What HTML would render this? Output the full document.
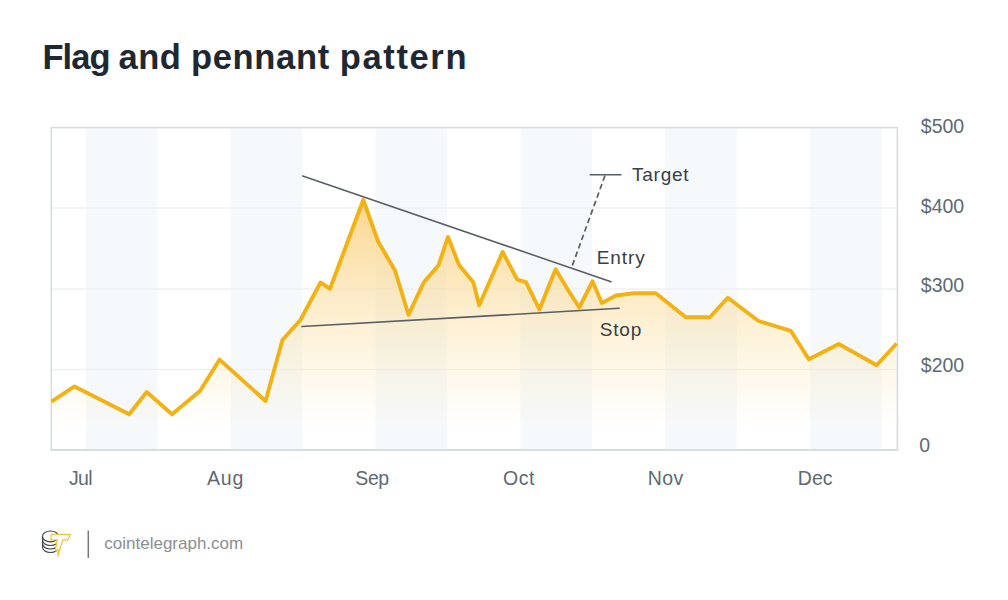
<!DOCTYPE html>
<html>
<head>
<meta charset="utf-8">
<style>
html,body{margin:0;padding:0;background:#fff;width:1008px;height:600px;overflow:hidden;}
svg{display:block;}
text{font-family:"Liberation Sans",sans-serif;}
</style>
</head>
<body>
<svg width="1008" height="600" viewBox="0 0 1008 600">
  <defs>
    <linearGradient id="fillg" gradientUnits="userSpaceOnUse" x1="0" y1="200" x2="0" y2="428">
      <stop offset="0" stop-color="#fad283" stop-opacity="0.9"/>
      <stop offset="1" stop-color="#fbe3a8" stop-opacity="0"/>
    </linearGradient>
  </defs>
  <rect x="0" y="0" width="1008" height="600" fill="#ffffff"/>
  <!-- title -->
  <g font-size="34.5" font-weight="bold" fill="#1e2833">
    <text x="42.4" y="68.5" letter-spacing="-0.9">Flag</text>
    <text x="118.4" y="68.5" letter-spacing="0.6">and</text>
    <text x="190.9" y="68.5" letter-spacing="0.7">pennant</text>
    <text x="339.7" y="68.5" letter-spacing="1.65">pattern</text>
  </g>

  <!-- stripes -->
  <g fill="#f6f9fb">
    <rect x="86" y="128" width="71.6" height="321.5"/>
    <rect x="230.8" y="128" width="71.6" height="321.5"/>
    <rect x="375.6" y="128" width="71.6" height="321.5"/>
    <rect x="520.4" y="128" width="71.6" height="321.5"/>
    <rect x="665.2" y="128" width="71.6" height="321.5"/>
    <rect x="810" y="128" width="71.6" height="321.5"/>
  </g>
  <!-- gridlines -->
  <g stroke="#eef1f3" stroke-width="1.5">
    <line x1="52" y1="208.1" x2="897" y2="208.1"/>
    <line x1="52" y1="288.9" x2="897" y2="288.9"/>
    <line x1="52" y1="369.5" x2="897" y2="369.5"/>
  </g>

  <!-- area fill -->
  <polygon fill="url(#fillg)" points="51.5,449.5 51.5,401.6 74.5,386.4 129.2,414.2 146.7,392 172,414.2 200,391 219.6,359.6 265.6,401 282.4,340 300.4,320 320.5,282.5 330,288.75 363.25,200 378,241.25 395,270.5 408.5,314.8 423.8,282.3 438.5,265.4 448,236.9 459,264.9 473.3,282.3 479.2,305.2 502.6,252 517.3,279.6 526,282.2 539.4,309.5 555.6,269.3 568,290 579.3,307.5 592.5,281.3 601.8,303 616,295.5 634,293.3 655.8,293.3 685.8,317.3 709.8,317.3 727.8,297.8 758.5,321 790.8,330.8 808.8,359.3 838.8,344 876.7,365.3 896.6,343.5 896.6,449.5"/>

  <!-- frame -->
  <rect x="51.3" y="127.6" width="846.1" height="322.4" fill="none" stroke="#d6dce2" stroke-width="1.6"/>
  <line x1="50.5" y1="450" x2="898.2" y2="450" stroke="#d8dde2" stroke-width="2"/>

  <!-- price line -->
  <polyline fill="none" stroke="#f2b213" stroke-width="3.9" stroke-linejoin="round" points="51.5,401.6 74.5,386.4 129.2,414.2 146.7,392 172,414.2 200,391 219.6,359.6 265.6,401 282.4,340 300.4,320 320.5,282.5 330,288.75 363.25,200 378,241.25 395,270.5 408.5,314.8 423.8,282.3 438.5,265.4 448,236.9 459,264.9 473.3,282.3 479.2,305.2 502.6,252 517.3,279.6 526,282.2 539.4,309.5 555.6,269.3 568,290 579.3,307.5 592.5,281.3 601.8,303 616,295.5 634,293.3 655.8,293.3 685.8,317.3 709.8,317.3 727.8,297.8 758.5,321 790.8,330.8 808.8,359.3 838.8,344 876.7,365.3 896.6,343.5"/>

  <!-- trendlines -->
  <g stroke="#585e65" stroke-width="1.55" stroke-linecap="round">
    <line x1="302.7" y1="176" x2="611" y2="281.7"/>
    <line x1="302" y1="326.6" x2="619.2" y2="308.3"/>
    <line x1="589.7" y1="174.8" x2="621.5" y2="174.8" stroke-linecap="butt"/>
  </g>
  <line x1="605" y1="175.5" x2="571.8" y2="267" stroke="#585e65" stroke-width="1.7" stroke-dasharray="5.6 3.4"/>

  <!-- annotations -->
  <g font-size="19" fill="#384047">
    <text x="632" y="180.8" letter-spacing="0.76">Target</text>
    <text x="596.8" y="264" letter-spacing="0.9">Entry</text>
    <text x="599.8" y="336.3" letter-spacing="0.8">Stop</text>
  </g>

  <!-- y labels -->
  <g font-size="19.5" fill="#5e6973">
    <text x="920.8" y="133.3">$500</text>
    <text x="920.8" y="212.5">$400</text>
    <text x="920.8" y="292.3">$300</text>
    <text x="920.8" y="371.7">$200</text>
    <text x="919.3" y="451.8">0</text>
  </g>
  <!-- x labels -->
  <g font-size="19.5" fill="#5e6973">
    <text x="68.95" y="485.3" letter-spacing="-0.6">Jul</text>
    <text x="207" y="485.3" letter-spacing="0.85">Aug</text>
    <text x="355.3" y="485.3" letter-spacing="-0.4">Sep</text>
    <text x="502.95" y="485.3" letter-spacing="0.55">Oct</text>
    <text x="647.7" y="485.3" letter-spacing="0.4">Nov</text>
    <text x="797.8" y="485.3">Dec</text>
  </g>

  <!-- footer -->
  <!-- logo -->
  <g fill="none" stroke="#41464c" stroke-width="1.15">
    <ellipse cx="50.5" cy="536.4" rx="8" ry="5.4"/>
    <path d="M42.5,536.4 V547.1"/>
    <path d="M42.5,540.1 A8,5.4 0 0 0 58.5,540.1"/>
    <path d="M42.5,543.6 A8,5.4 0 0 0 58.5,543.6"/>
    <path d="M42.5,547.1 A8,5.4 0 0 0 58.5,547.1"/>
  </g>
  <path d="M51.3,534.4 L70.4,534.4 L67.8,539.8 L62.8,539.8 L57.8,556.2 L58.3,549.5 L55.3,550.8 L57.3,539.8 L50.8,539.8 Z" fill="#ffffff" stroke="#f3c634" stroke-width="1.25" stroke-linejoin="round"/>
  <line x1="88.3" y1="530.5" x2="88.3" y2="558" stroke="#75797e" stroke-width="1.5"/>
  <text x="104.3" y="548.8" font-size="17" fill="#8a8e93">cointelegraph.com</text>
</svg>
</body>
</html>
